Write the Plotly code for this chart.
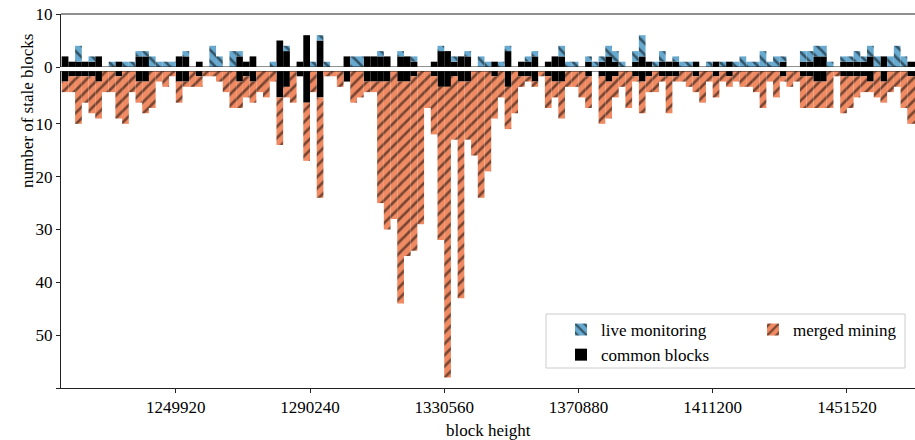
import numpy as np
import plotly.graph_objects as go

# ---------------- data ----------------
first_block = 1215648          # first block height of the first 2016-block period
period = 2016                  # blocks per bin

common = [2, 1, 1, 1, 1, 2, 0, 0, 1, 0, 0, 2, 2, 0, 0, 0, 0, 2, 2, 0,
          1, 0, 0, 0, 0, 0, 2, 1, 2, 0, 0, 0, 5, 3, 0, 1, 6, 0, 5, 0,
          0, 0, 2, 0, 0, 2, 2, 2, 2, 0, 2, 2, 1, 0, 0, 1, 3, 3, 1, 2,
          2, 0, 0, 0, 1, 0, 3, 0, 1, 1, 2, 0, 1, 2, 2, 0, 0, 0, 1, 0,
          1, 2, 1, 0, 0, 1, 2, 1, 0, 1, 1, 1, 0, 0, 1, 0, 0, 1, 0, 1,
          0, 0, 0, 0, 0, 0, 0, 1, 0, 0, 1, 1, 2, 2, 0, 0, 1, 1, 1, 1,
          2, 0, 2, 0, 0, 0, 1, 1]

live = [0, 0, 3, 0, 1, 0, 0, 1, 0, 1, 1, 1, 1, 2, 1, 1, 1, 0, 1, 0,
        0, 0, 4, 2, 0, 3, 1, 0, 0, 0, 0, 1, 0, 1, 0, 0, 0, 1, 1, 1,
        0, 0, 0, 2, 2, 0, 0, 1, 0, 0, 1, 0, 1, 0, 0, 0, 1, 0, 1, 0,
        1, 0, 2, 1, 0, 1, 1, 0, 0, 1, 1, 0, 0, 0, 2, 1, 1, 0, 1, 1,
        1, 2, 2, 1, 0, 2, 4, 0, 1, 2, 0, 1, 1, 1, 0, 0, 1, 0, 1, 0,
        1, 2, 1, 1, 3, 1, 2, 1, 0, 0, 2, 2, 2, 2, 1, 0, 1, 1, 2, 1,
        2, 2, 0, 2, 4, 2, 0, 0]

merged = [2, 3, 9, 5, 7, 7, 4, 4, 8, 10, 4, 4, 6, 7, 2, 3, 1, 4, 1, 3,
          2, 1, 1, 2, 4, 7, 5, 4, 4, 4, 5, 2, 9, 2, 6, 0, 11, 4, 19, 1,
          1, 3, 0, 6, 5, 2, 2, 23, 28, 28, 42, 33, 33, 29, 7, 11, 29, 55, 12, 41,
          11, 16, 24, 19, 8, 5, 8, 8, 2, 1, 1, 1, 6, 3, 7, 3, 3, 5, 6, 0,
          9, 7, 4, 3, 7, 1, 6, 3, 4, 1, 7, 1, 2, 3, 3, 6, 2, 4, 2, 2,
          2, 3, 3, 4, 7, 2, 5, 1, 3, 2, 6, 6, 5, 5, 7, 1, 7, 6, 4, 3,
          2, 5, 4, 4, 3, 7, 9, 9]

x_ticks = [1249920, 1290240, 1330560, 1370880, 1411200, 1451520]
x_tick_labels = ["1249920", "1290240", "1330560", "1370880", "1411200", "1451520"]
top_ticks = [0, 10]
top_tick_labels = ["0", "10"]
bottom_ticks = [10, 20, 30, 40, 50, 60]
bottom_tick_labels = ["10", "20", "30", "40", "50", ""]

# ---------------- styling ----------------
FONT = "Liberation Serif"
BLUE = "#67a9cf"
ORANGE = "#ef8a62"
LINE = "#222222"
pat = dict(fgcolor="black", size=8, solidity=0.33)

n = len(common)
block_start = first_block + period * np.arange(n)
common_a = np.array(common)

fig = go.Figure()
# top panel
fig.add_trace(go.Bar(x=block_start, y=common, base=0, width=period, offset=0,
                     marker=dict(color="black", line=dict(width=0)),
                     name="common blocks", legend="legend", legendrank=2,
                     yaxis="y", hoverinfo="skip"))
fig.add_trace(go.Bar(x=block_start, y=live, base=common_a, width=period, offset=0,
                     marker=dict(color=BLUE, line=dict(width=0),
                                 pattern=dict(shape="\\", **pat)),
                     name="live monitoring", legend="legend", legendrank=1,
                     yaxis="y", hoverinfo="skip"))
# bottom panel
fig.add_trace(go.Bar(x=block_start, y=common, base=0, width=period, offset=0,
                     marker=dict(color="black", line=dict(width=0)),
                     showlegend=False, yaxis="y2", hoverinfo="skip"))
fig.add_trace(go.Bar(x=block_start, y=merged, base=common_a, width=period, offset=0,
                     marker=dict(color=ORANGE, line=dict(width=0),
                                 pattern=dict(shape="/", **pat)),
                     name="merged mining", legend="legend2",
                     yaxis="y2", hoverinfo="skip"))

W, H = 915, 440
ml, mr, mt = 61, 0, 14
plot_bottom = 388
mb = H - plot_bottom
pw, ph = W - ml - mr, H - mt - mb

def px(xr):
    return (xr - ml) / pw

def py(yr):
    return (plot_bottom - yr) / ph

top_dom = [py(67), 1.0]
bot_dom = [0.0, py(71)]

axis_common = dict(showgrid=False, zeroline=False, showline=True, linecolor=LINE,
                   linewidth=1, ticks="outside", ticklen=4, tickwidth=1,
                   tickcolor=LINE, tickfont=dict(family=FONT, size=17, color="black"))

fig.update_layout(
    width=W, height=H,
    margin=dict(l=ml, r=mr, t=mt, b=mb, autoexpand=False),
    paper_bgcolor="white", plot_bgcolor="white",
    barmode="overlay",
    font=dict(family=FONT, size=17, color="black"),
    xaxis=dict(range=[1215440, 1471982], tickvals=x_ticks, ticktext=x_tick_labels,
               anchor="y2", **axis_common),
    yaxis=dict(domain=top_dom, range=[0, 10], tickvals=top_ticks,
               ticktext=top_tick_labels, anchor="x", **axis_common),
    yaxis2=dict(domain=bot_dom, range=[60, 0], tickvals=bottom_ticks,
                ticktext=bottom_tick_labels, anchor="x", **axis_common),
    legend=dict(x=px(561), y=py(312), xanchor="left", yanchor="top",
                bgcolor="rgba(0,0,0,0)", borderwidth=0, traceorder="normal",
                font=dict(family=FONT, size=17, color="black")),
    legend2=dict(x=px(753), y=py(312), xanchor="left", yanchor="top",
                 bgcolor="rgba(0,0,0,0)", borderwidth=0,
                 font=dict(family=FONT, size=17, color="black")),
    shapes=[
        dict(type="line", xref="paper", yref="paper", x0=0, x1=1, y0=1, y1=1,
             line=dict(color=LINE, width=1.2), layer="above"),
        dict(type="line", xref="paper", yref="y", x0=0, x1=1, y0=0, y1=0,
             line=dict(color=LINE, width=1), layer="above"),
        dict(type="line", xref="paper", yref="y2", x0=0, x1=1, y0=0, y1=0,
             line=dict(color=LINE, width=1), layer="above"),
        dict(type="rect", xref="paper", yref="paper",
             x0=px(546), x1=px(905), y0=py(368), y1=py(314),
             line=dict(color="#cccccc", width=1),
             fillcolor="rgba(255,255,255,0.85)", layer="above"),
    ],
    annotations=[
        dict(text="number of stale blocks", textangle=-90, xref="paper", yref="paper",
             x=px(27), y=py(111), xanchor="center", yanchor="middle",
             showarrow=False, font=dict(family=FONT, size=17, color="black")),
        dict(text="block height", xref="paper", yref="paper",
             x=px(488), y=py(430), xanchor="center", yanchor="middle",
             showarrow=False, font=dict(family=FONT, size=17, color="black")),
    ],
)

# remove the browser's default 8px body margin so the figure fills the window exactly
fig.write_html("out.html",
               config={"displayModeBar": False},
               post_script="document.body.style.margin='0px';document.body.style.overflow='hidden';")
